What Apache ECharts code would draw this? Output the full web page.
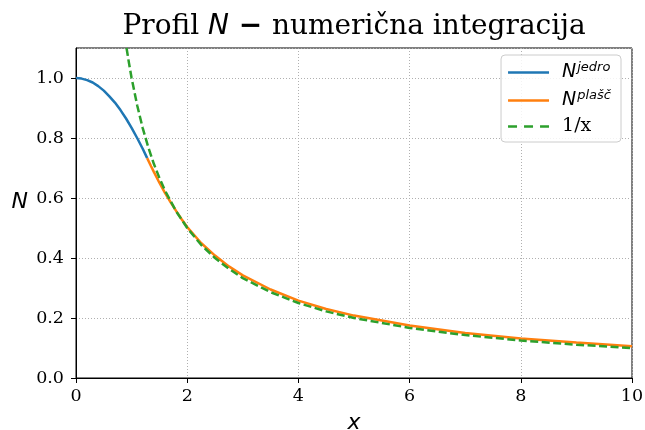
<!DOCTYPE html>
<html><head><meta charset="utf-8">
<script src="https://cdn.jsdelivr.net/npm/echarts@6/dist/echarts.min.js"></script>
<style>html,body{margin:0;padding:0;background:#fff}#c{width:645px;height:430px}</style>
</head><body><div id="c"></div>
<script>
// Data
const coreX = [0, 0.1, 0.2, 0.3, 0.4, 0.5, 0.6, 0.7, 0.8, 0.9, 1.0, 1.1, 1.2, 1.28];
const coreY = [1.0, 0.998, 0.993, 0.985, 0.973, 0.958, 0.939, 0.918, 0.893, 0.865, 0.834, 0.800, 0.764, 0.733];
const shellX = [1.28, 1.35, 1.4, 1.5, 1.6, 1.7, 1.8, 1.9, 2.0, 2.25, 2.5, 2.75, 3, 3.5, 4, 4.5, 5, 6, 7, 8, 9, 10];
const shellY = [0.733, 0.706, 0.687, 0.651, 0.617, 0.586, 0.557, 0.529, 0.503, 0.450, 0.408, 0.372, 0.342, 0.295, 0.258, 0.230, 0.208, 0.175, 0.150, 0.132, 0.118, 0.106];
const invX = [0.909, 0.95, 1.0, 1.1, 1.2, 1.3, 1.4, 1.5, 1.6, 1.8, 2.0, 2.25, 2.5, 2.75, 3, 3.5, 4, 4.5, 5, 6, 7, 8, 9, 10];
const invY = [1.1, 1.053, 1.0, 0.909, 0.833, 0.769, 0.714, 0.667, 0.625, 0.556, 0.5, 0.444, 0.4, 0.364, 0.333, 0.286, 0.25, 0.222, 0.2, 0.167, 0.143, 0.125, 0.111, 0.1];
const xTicks = [0, 2, 4, 6, 8, 10];
const yTicks = [0.0, 0.2, 0.4, 0.6, 0.8, 1.0];

const zip = (a, b) => a.map((v, i) => [v, b[i]]);
const serif = 'DejaVu Serif';
const sans = 'DejaVu Sans';
const blue = '#1f77b4', orange = '#ff7f0e', green = '#2ca02c';
const solidIcon = 'path://M0,0h41v2.6h-41z';
const dashIcon = 'path://M0,0h9v2.6h-9z M16,0h9v2.6h-9z M32,0h9v2.6h-9z';

const chart = echarts.init(document.getElementById('c'), null, {renderer: 'canvas'});
chart.setOption({
  animation: false,
  title: {
    text: '{a|Profil }{b|N}{c| − }{a|numerična integracija}',
    left: 349, textAlign: 'center', top: 8,
    textStyle: {
      fontWeight: 'normal',
      rich: {
        a: {fontFamily: serif, fontSize: 28, fontWeight: 'normal', color: '#000'},
        b: {fontFamily: sans, fontStyle: 'italic', fontSize: 28, fontWeight: 'normal', color: '#000'},
        c: {fontFamily: sans, fontSize: 28, fontWeight: 'bold', color: '#000'}
      }
    }
  },
  grid: {left: 76, right: 13, top: 48, bottom: 52, show: true, borderColor: '#000', borderWidth: 1,
    containLabel: false, outerBoundsMode: 'none'},
  legend: {
    right: 24, top: 55, orient: 'vertical',
    backgroundColor: 'rgba(255,255,255,0.85)', borderColor: '#ccc', borderWidth: 1, borderRadius: 4,
    padding: [6, 10, 6, 7], itemGap: 7, itemWidth: 41, itemHeight: 2.6,
    data: [
      {name: 'jedro', icon: solidIcon, itemStyle: {color: blue, borderWidth: 0}},
      {name: 'plasc', icon: solidIcon, itemStyle: {color: orange, borderWidth: 0}},
      {name: 'inv', icon: dashIcon, itemStyle: {color: green, borderWidth: 0}}
    ],
    formatter: function (n) {
      if (n === 'jedro') return '{n|N}{s|jedro}';
      if (n === 'plasc') return '{n|N}{s|plašč}';
      return '{t|1/x}';
    },
    textStyle: {
      rich: {
        n: {fontFamily: sans, fontStyle: 'italic', fontSize: 19, color: '#000', height: 22, padding: [0, 0, 0, 8]},
        s: {fontFamily: sans, fontStyle: 'italic', fontSize: 13, color: '#000', verticalAlign: 'top', padding: [0, 0, 10, 1]},
        t: {fontFamily: serif, fontSize: 19, color: '#000', height: 22, padding: [0, 0, 0, 8]}
      }
    }
  },
  xAxis: {
    type: 'value', min: 0, max: 10, interval: 2,
    name: 'x', nameLocation: 'middle', nameGap: 45, nameMoveOverlap: false,
    nameTextStyle: {fontFamily: sans, fontStyle: 'italic', fontSize: 22, color: '#000', verticalAlign: 'middle'},
    axisLine: {show: true, lineStyle: {color: '#000', width: 1}},
    axisTick: {show: true, length: 5, lineStyle: {color: '#000'}},
    axisLabel: {fontFamily: serif, fontSize: 17.5, color: '#000', margin: 9,
      formatter: v => xTicks.includes(v) ? String(v) : ''},
    splitLine: {show: true, lineStyle: {color: '#b0b0b0', type: [1, 2], width: 1}}
  },
  yAxis: {
    type: 'value', min: 0, max: 1.1, interval: 0.2,
    name: 'N', nameLocation: 'middle', nameGap: 48, nameRotate: 0, nameMoveOverlap: false,
    nameTextStyle: {fontFamily: sans, fontStyle: 'italic', fontSize: 22, color: '#000', verticalAlign: 'bottom', lineHeight: 22},
    axisLine: {show: true, lineStyle: {color: '#000', width: 1}},
    axisTick: {show: true, length: 5, lineStyle: {color: '#000'}},
    axisLabel: {fontFamily: serif, fontSize: 17.5, color: '#000', margin: 12, showMaxLabel: false,
      formatter: v => yTicks.some(t => Math.abs(t - v) < 1e-9) ? v.toFixed(1) : ''},
    splitLine: {show: true, lineStyle: {color: '#b0b0b0', type: [1, 2], width: 1}}
  },
  series: [
    {name: 'jedro', type: 'line', data: zip(coreX, coreY), showSymbol: false, symbol: 'none', smooth: false,
      lineStyle: {color: blue, width: 2.5}, itemStyle: {color: blue}, z: 2},
    {name: 'plasc', type: 'line', data: zip(shellX, shellY), showSymbol: false, symbol: 'none', smooth: false,
      lineStyle: {color: orange, width: 2.5}, itemStyle: {color: orange}, z: 3},
    {name: 'inv', type: 'line', data: zip(invX, invY), showSymbol: false, symbol: 'none', smooth: false,
      lineStyle: {color: green, width: 2.5, type: [8, 3.5]}, itemStyle: {color: green}, z: 4}
  ]
});
</script></body></html>
